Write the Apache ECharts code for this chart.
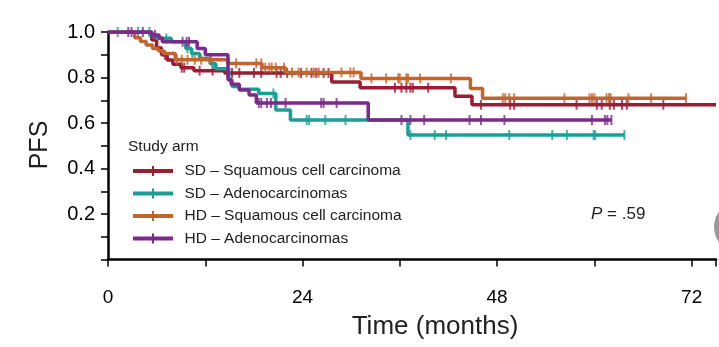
<!DOCTYPE html>
<html><head><meta charset="utf-8">
<script src="https://cdn.jsdelivr.net/npm/echarts@6/dist/echarts.min.js"></script>
<style>html,body{margin:0;padding:0;background:#fff}#c{width:719px;height:347px}</style>
</head><body><div id="c"></div>
<script>
// ---- data ----
const seriesNames = ['SD – Squamous cell carcinoma', 'SD – Adenocarcinomas', 'HD – Squamous cell carcinoma', 'HD – Adenocarcinomas'];
const seriesColors = ['#9c1c33', '#1a9e98', '#c2652c', '#7b2a8b'];

const sdSqTimes = [0, 5.4, 6.0, 6.6, 7.3, 8.0, 9.0, 10.6, 14.4, 27.6, 31.1, 42.8, 44.9];
const sdSqSurv  = [1.0, 0.965, 0.93, 0.9, 0.877, 0.858, 0.843, 0.83, 0.82, 0.78, 0.755, 0.718, 0.68];
const sdSqEnd = 75;
const sdSqCensor = [7.0, 9.1, 9.4, 11.3, 12.9, 15.3, 16.2, 18.0, 18.9, 20.8, 21.3, 22.1, 23.8, 25.1, 25.7, 26.6, 27.2, 35.4, 36.2, 36.8, 37.3, 37.6, 39.5, 46.0, 49.6, 50.1, 57.8, 60.3, 60.9, 61.9, 62.4, 63.4, 64.0, 68.5];

const sdAdTimes = [0, 5.2, 5.8, 7.8, 9.6, 10.3, 11.3, 12.6, 13.3, 14.9, 15.3, 16.2, 18.6, 20.7, 22.5, 37.0];
const sdAdSurv  = [1.0, 0.987, 0.972, 0.957, 0.928, 0.906, 0.884, 0.86, 0.838, 0.79, 0.76, 0.748, 0.73, 0.657, 0.613, 0.547];
const sdAdEnd = 63.7;
const sdAdCensor = [1.2, 3.7, 5.1, 7.2, 9.8, 10.4, 12.9, 20.4, 24.5, 24.8, 26.8, 29.3, 37.3, 40.3, 41.7, 49.5, 54.8, 56.6, 59.9, 60.1, 63.7];

const hdSqTimes = [0, 3.3, 4.0, 4.7, 5.5, 6.2, 6.8, 8.3, 14.8, 19.0, 21.9, 31.2, 44.7, 46.2];
const hdSqSurv  = [1.0, 0.975, 0.958, 0.943, 0.928, 0.918, 0.905, 0.878, 0.862, 0.843, 0.822, 0.796, 0.752, 0.709];
const hdSqEnd = 71.3;
const hdSqCensor = [8.5, 9.1, 9.8, 10.7, 11.5, 12.7, 15.8, 18.3, 18.9, 19.4, 19.9, 20.2, 20.7, 21.7, 22.7, 23.5, 24.5, 25.4, 26.0, 28.8, 29.9, 30.3, 32.5, 34.3, 35.8, 36.0, 36.8, 37.0, 38.5, 42.3, 48.7, 49.0, 49.5, 50.1, 56.3, 59.4, 59.7, 60.0, 61.5, 61.8, 62.0, 64.2, 67.0, 71.3];

const hdAdTimes = [0, 5.4, 6.3, 6.7, 11.0, 12.0, 14.8, 15.2, 16.2, 17.4, 18.3, 32.1];
const hdAdSurv  = [1.0, 0.987, 0.974, 0.957, 0.928, 0.9, 0.79, 0.77, 0.745, 0.723, 0.688, 0.613];
const hdAdEnd = 62.1;
const hdAdCensor = [2.5, 2.9, 4.3, 5.8, 9.2, 9.7, 10.0, 18.6, 18.9, 19.6, 20.1, 21.9, 26.3, 26.6, 28.2, 36.2, 37.3, 39.0, 44.6, 46.0, 48.9, 59.7, 61.3, 61.6, 62.1];

const xTickLabels = [0, 24, 48, 72];
const yTickLabels = [0.2, 0.4, 0.6, 0.8, 1.0];
const pValueText = '= .59';

// ---- build ----
const groups = [
  [sdSqTimes, sdSqSurv, sdSqEnd, sdSqCensor],
  [sdAdTimes, sdAdSurv, sdAdEnd, sdAdCensor],
  [hdSqTimes, hdSqSurv, hdSqEnd, hdSqCensor],
  [hdAdTimes, hdAdSurv, hdAdEnd, hdAdCensor]
];
function survAt(times, surv, t) {
  let s = surv[0];
  for (let i = 0; i < times.length; i++) { if (times[i] <= t) s = surv[i]; }
  return s;
}
const series = [];
groups.forEach((g, k) => {
  const [times, surv, end, cens] = g;
  const lineData = times.map((t, i) => [t, surv[i]]);
  lineData.push([end, surv[surv.length - 1]]);
  series.push({
    name: seriesNames[k], type: 'line', step: 'end', data: lineData,
    showSymbol: false, symbol: 'none',
    lineStyle: { color: seriesColors[k], width: 3.5 }, itemStyle: { color: seriesColors[k] },
    z: 2 + k, silent: true
  });
  series.push({
    name: seriesNames[k], type: 'scatter',
    data: cens.map(t => [t, survAt(times, surv, t)]),
    symbol: 'rect', symbolSize: [2, 10],
    itemStyle: { color: seriesColors[k] }, z: 2 + k, silent: true
  });
});

const legendIcon = 'path://M0,3h40v4H0z M19,0h2v10h-2z';
const chart = echarts.init(document.getElementById('c'));
chart.setOption({
  animation: false,
  backgroundColor: '#fff',
  grid: { left: 108, top: 32, width: 612, height: 227.5 },
  xAxis: {
    type: 'value', min: 0, max: 75, interval: 12,
    axisLine: { show: true, onZero: false, lineStyle: { color: '#000', width: 2.5 } },
    axisTick: { show: true, length: 7, lineStyle: { color: '#000', width: 1.5 } },
    axisLabel: {
      margin: 29, fontFamily: 'Liberation Sans', fontSize: 19, color: '#000',
      formatter: v => (xTickLabels.indexOf(v) >= 0 ? String(v) : '')
    },
    splitLine: { show: false }
  },
  yAxis: {
    type: 'value', min: 0, max: 1, interval: 0.2,
    axisLine: { show: true, lineStyle: { color: '#000', width: 2.5 } },
    axisTick: { show: true, length: 7, lineStyle: { color: '#000', width: 1.5 } },
    minorTick: { show: true, splitNumber: 2, length: 7, lineStyle: { color: '#000', width: 1.5 } },
    axisLabel: {
      margin: 13, fontFamily: 'Liberation Sans', fontSize: 20, color: '#000',
      formatter: v => {
        const hit = yTickLabels.find(y => Math.abs(y - v) < 1e-6);
        return hit === undefined ? '' : hit.toFixed(1);
      }
    },
    splitLine: { show: false }
  },
  legend: {
    orient: 'vertical', left: 128, top: 158,
    itemWidth: 45, itemHeight: 10, itemGap: 6.5,
    textStyle: { fontFamily: 'Liberation Sans', fontSize: 15.5, color: '#222', lineHeight: 16, padding: [0, 0, 0, 4] },
    data: seriesNames.map(n => ({ name: n, icon: legendIcon })),
    selectedMode: false
  },
  graphic: [
    { type: 'text', left: 128, top: 139, style: { text: 'Study arm', fontFamily: 'Liberation Sans', fontSize: 15.5, fill: '#222' } },
    { type: 'text', x: 591, y: 214, style: {
        text: '{i|P} ' + pValueText, fontFamily: 'Liberation Sans', fontSize: 17, fill: '#222', verticalAlign: 'middle',
        rich: { i: { fontStyle: 'italic', fontFamily: 'Liberation Sans', fontSize: 17, fill: '#222' } } } },
    { type: 'text', x: 435, y: 327, style: { text: 'Time (months)', fontFamily: 'Liberation Sans', fontSize: 26, fill: '#222', align: 'center', verticalAlign: 'middle' } },
    { type: 'text', x: 40, y: 145, rotation: Math.PI / 2, style: { text: 'PFS', fontFamily: 'Liberation Sans', fontSize: 25, fill: '#222', align: 'center', verticalAlign: 'middle' } },
    { type: 'circle', shape: { cx: 740, cy: 227, r: 26 }, style: { fill: '#9a9a9a' } }
  ],
  series: series
});
</script></body></html>
